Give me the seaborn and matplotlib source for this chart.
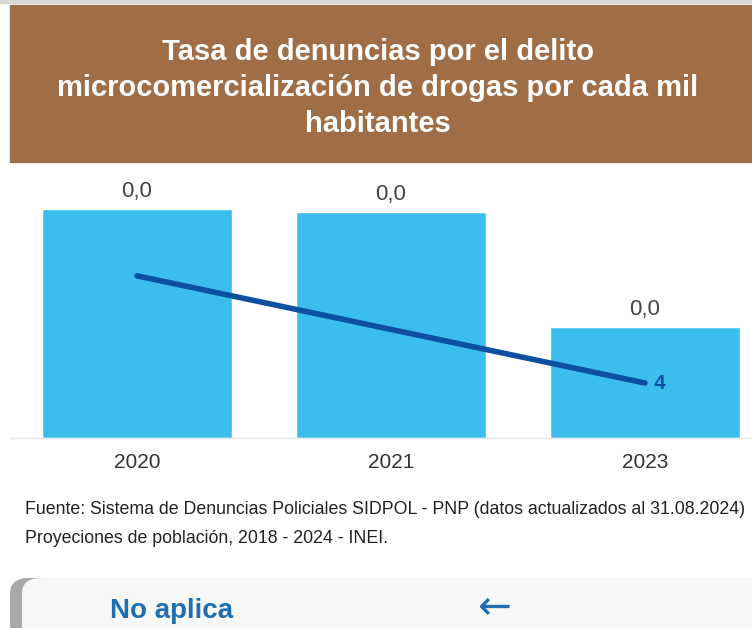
import matplotlib
matplotlib.use("Agg")
import matplotlib.pyplot as plt
import seaborn as sns
import pandas as pd
from matplotlib.patches import Rectangle, FancyBboxPatch

# Data
years = ["2020", "2021", "2023"]
tasa = [0.041, 0.0405, 0.0199]        # bars (rate per thousand, shown as 0,0)
denuncias = [11.8, 7.9, 4]            # line (number of reports)
tasa_labels = ["0,0", "0,0", "0,0"]

title = "Tasa de denuncias por el delito\nmicrocomercialización de drogas por cada mil\nhabitantes"
source = ("Fuente: Sistema de Denuncias Policiales SIDPOL - PNP (datos actualizados al 31.08.2024)\n"
          "Proyeciones de población, 2018 - 2024 - INEI.")

df = pd.DataFrame({"anio": years, "tasa": tasa, "denuncias": denuncias})

sns.set_style("white")
plt.rcParams["font.family"] = ["Liberation Sans", "DejaVu Sans"]

W, H = 752, 628
fig = plt.figure(figsize=(W / 100, H / 100), dpi=100)

def fx(px):
    return px / W

def fy(py):
    return 1 - py / H

# title box
fig.patches.append(Rectangle((fx(10), fy(162)), fx(742), 157 / H,
                             transform=fig.transFigure, color="#A06E46", zorder=0))
fig.patches.append(Rectangle((0, fy(3)), 1, 3 / H, transform=fig.transFigure,
                             color="#D8D8D8", zorder=0))
fig.text(fx(378), fy(88), title, ha="center", va="center", color="white",
         fontsize=21, fontweight="bold", linespacing=1.36)

# chart
ax = fig.add_axes([fx(10), fy(438), 762 / W, 268 / H])
sns.barplot(data=df, x="anio", y="tasa", color="#3BBEEE", saturation=1,
            width=0.75, ax=ax, zorder=2)
ax.set_xlim(-0.5, 2.5)
ax.set_ylim(0, 0.048)
ax.bar_label(ax.containers[0], labels=tasa_labels, padding=5, fontsize=16,
             color="#444444")
ax.set_xlabel("")
ax.set_ylabel("")
ax.set_yticks([])
ax.tick_params(axis="x", length=0, labelsize=15, labelcolor="#333333", pad=11)
ax.set_xticks([-0.5, 0.5, 1.5], minor=True)
ax.tick_params(axis="x", which="minor", length=7, width=0.8, color="#BBBBBB")
for s in ["top", "right", "left"]:
    ax.spines[s].set_visible(False)
ax.spines["bottom"].set_color("#E6E6E6")
ax.spines["bottom"].set_linewidth(1)

ax2 = ax.twinx()
sns.lineplot(x=[0, 1, 2], y=denuncias, ax=ax2, color="#0D4FA0", linewidth=4,
             solid_capstyle="round")
ax2.set_ylim(0, 19.5)
ax2.set_yticks([])
for s in ax2.spines.values():
    s.set_visible(False)
ax2.annotate(f"{denuncias[-1]:g}", (2, denuncias[-1]), xytext=(6, 0),
             textcoords="offset points", ha="left", va="center",
             fontsize=15, fontweight="bold", color="#0D4FA0")

# source
fig.text(fx(25), fy(501), source, ha="left", va="top", fontsize=12.8,
         color="#222222", linespacing=1.9)

# bottom card
fig.patches.append(FancyBboxPatch((fx(10), fy(650)), fx(760), 72 / H,
                                  boxstyle="round,pad=0,rounding_size=0.025",
                                  transform=fig.transFigure, facecolor="#A8A8A8",
                                  edgecolor="none", zorder=0))
fig.patches.append(FancyBboxPatch((fx(22), fy(650)), fx(760), 72 / H,
                                  boxstyle="round,pad=0,rounding_size=0.025",
                                  transform=fig.transFigure, facecolor="#F7F7F7",
                                  edgecolor="none", zorder=0))
fig.text(fx(110), fy(611), "No aplica", ha="left", va="center", fontsize=20,
         color="#1F6FB0", fontweight="bold")
fig.text(fx(495), fy(608), "←", ha="center", va="center", fontsize=29,
         color="#1F6FB0", family=["DejaVu Sans"])

fig.savefig("out.png", dpi=100)
